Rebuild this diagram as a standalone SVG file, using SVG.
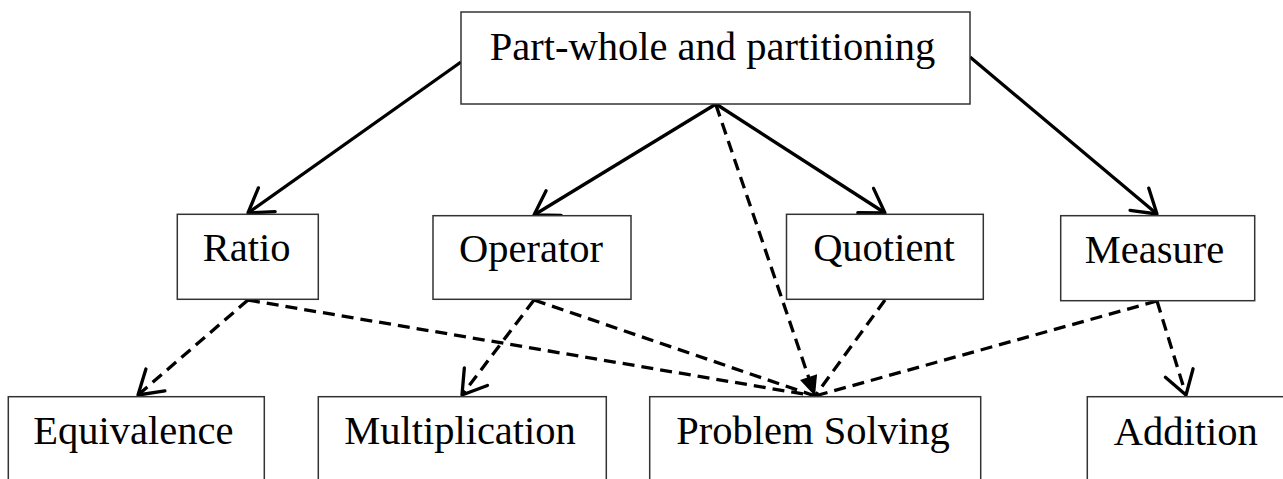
<svg xmlns="http://www.w3.org/2000/svg" width="1283" height="479" viewBox="0 0 1283 479">
<style>
  .box{fill:#fff;stroke:#333;stroke-width:1.5}
  .lbl{font-family:"Liberation Serif","Times New Roman",serif;font-size:40.5px;fill:#000;text-anchor:middle}
  .solid{stroke:#000;stroke-width:3.3;fill:none;marker-end:url(#open)}
  .dash{stroke:#000;stroke-width:3.3;fill:none;stroke-dasharray:12 7}
  .dopen{marker-end:url(#open)}
</style>
<defs>
  <marker id="open" markerUnits="userSpaceOnUse" markerWidth="30" markerHeight="30" refX="0" refY="0" orient="auto" overflow="visible">
    <path d="M-23,-14.5 L0,0 L-23,14.5" fill="none" stroke="#000" stroke-width="3.3" stroke-linejoin="round" stroke-linecap="round" stroke-dasharray="none"/>
  </marker>
  <marker id="filled" markerUnits="userSpaceOnUse" markerWidth="30" markerHeight="30" refX="0" refY="0" orient="auto" overflow="visible">
    <path d="M-20,-9 L0,0 L-20,9 Z" fill="#000" stroke="none"/>
  </marker>
</defs>
<rect width="1283" height="479" fill="#fff"/>

<g id="connectors">
  <line class="solid" x1="461" y1="62" x2="248" y2="213"/>
  <line class="solid" x1="970" y1="57" x2="1157" y2="214"/>
  <line class="solid" x1="716" y1="104" x2="534" y2="215"/>
  <line class="solid" x1="716" y1="104" x2="885" y2="213"/>
  <line class="dash" x1="716" y1="105" x2="815" y2="396" marker-end="url(#filled)"/>
  <line class="dash dopen" x1="248" y1="300" x2="138" y2="395"/>
  <line class="dash" x1="248" y1="300" x2="815" y2="396"/>
  <line class="dash dopen" x1="534" y1="300" x2="462" y2="395"/>
  <line class="dash" x1="534" y1="300" x2="815" y2="396"/>
  <line class="dash" x1="885" y1="300" x2="815" y2="396"/>
  <line class="dash" x1="1157" y1="301" x2="815" y2="396"/>
  <line class="dash dopen" x1="1157" y1="301" x2="1186" y2="395"/>
</g>

<g id="node-partwhole">
  <rect class="box" x="461" y="12" width="509" height="92"/>
  <text class="lbl" x="712.5" y="60">Part-whole and partitioning</text>
</g>
<g id="node-ratio">
  <rect class="box" x="177.3" y="214.3" width="141" height="85"/>
  <text class="lbl" x="246.7" y="261">Ratio</text>
</g>
<g id="node-operator">
  <rect class="box" x="433" y="215.7" width="198" height="83.6"/>
  <text class="lbl" x="531" y="261.5">Operator</text>
</g>
<g id="node-quotient">
  <rect class="box" x="786.5" y="214.3" width="196.8" height="85"/>
  <text class="lbl" x="884" y="260.5">Quotient</text>
</g>
<g id="node-measure">
  <rect class="box" x="1060.7" y="215.7" width="194" height="85"/>
  <text class="lbl" x="1154.5" y="263">Measure</text>
</g>
<g id="node-equivalence">
  <rect class="box" x="8.3" y="396.7" width="256" height="110"/>
  <text class="lbl" x="133.3" y="444">Equivalence</text>
</g>
<g id="node-multiplication">
  <rect class="box" x="318.3" y="396.7" width="288" height="110"/>
  <text class="lbl" x="460" y="444">Multiplication</text>
</g>
<g id="node-problemsolving">
  <rect class="box" x="649.7" y="396.7" width="331" height="110"/>
  <text class="lbl" x="813" y="444.3">Problem Solving</text>
</g>
<g id="node-addition">
  <rect class="box" x="1087.3" y="396.7" width="220" height="110"/>
  <text class="lbl" x="1185.7" y="445">Addition</text>
</g>
</svg>
